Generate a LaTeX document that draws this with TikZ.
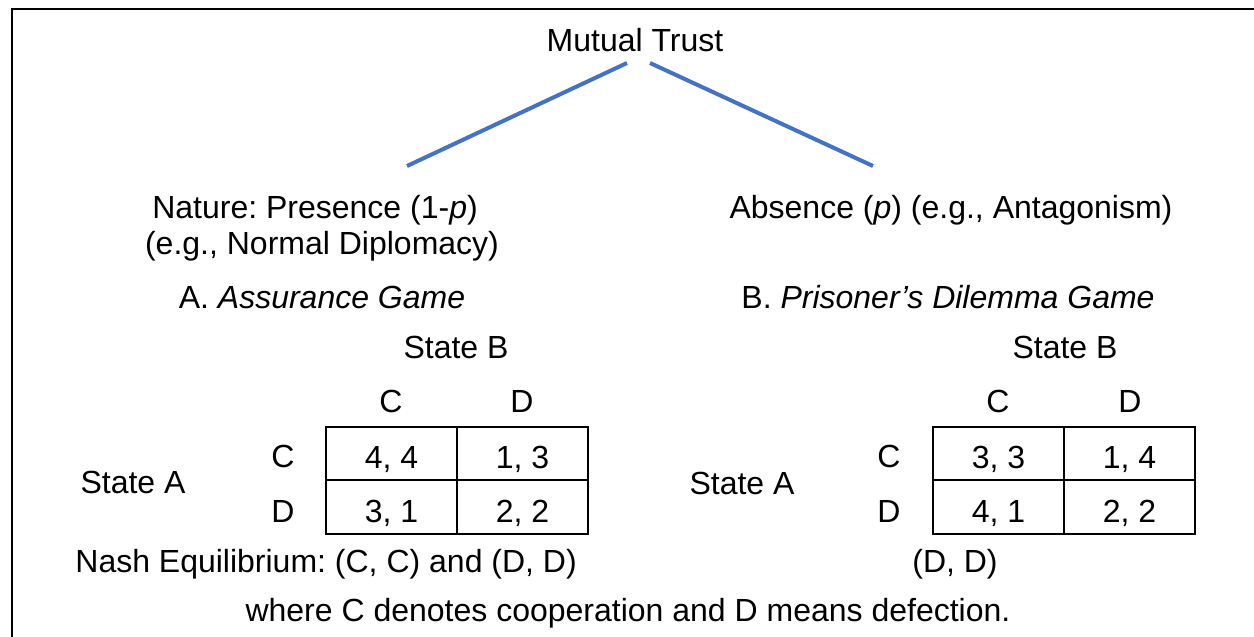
\documentclass[tikz,border=0pt]{standalone}
\usepackage{fontspec}
\setmainfont{Liberation Sans}
\usepackage{tikz}
\usetikzlibrary{calc}
\definecolor{trustblue}{HTML}{4472C4}
\frenchspacing

\begin{document}
\begin{tikzpicture}[
        x=0.5pt, y=-0.5pt,
        every node/.style={font=\fontsize{16}{19}\selectfont, inner sep=0pt},
        lb/.style={anchor=base},
        cell/.style={draw, line width=0.9pt, minimum width=65.5pt, minimum height=26.75pt,
          text height=17pt, text depth=2pt},
        br/.style={line width=2pt, trustblue}
      ]
      \useasboundingbox (0,0) rectangle (1254,637);
      \draw[line width=1.4pt] (12,637) -- (12,9) -- (1254,9);
      % the tree
      \node[lb] (trust) at (635,51) {Mutual Trust};
      \node[lb] (presence) at (315,218) {Nature: Presence (1-\textit{p})};
      \node[lb] (diplomacy) at (322,254) {(e.g., Normal Diplomacy)};
      \node[lb] (gameA) at (322,308) {A. \textit{Assurance Game}};
      \node[lb] (absence) at (951,218) {Absence (\textit{p}) (e.g., Antagonism)};
      \node[lb] (gameB) at (948,308) {B. \textit{Prisoner’s Dilemma Game}};
      \draw[br] ([xshift=-4pt, yshift=-6pt]trust.base) -- ([xshift=46pt, yshift=26pt]presence.base);
      \draw[br] ([xshift=7.5pt, yshift=-6pt]trust.base) -- ([xshift=-39pt, yshift=26pt]absence.base);
      % game A
      \node[lb] (sbA) at (456,358) {State B};
      \node[lb] (saA) at (133,493) {State A};
      \node[lb] (cA) at (391,412) {C};
      \node[lb] (dA) at (522,412) {D};
      \node[lb] (rcA) at (283,467) {C};
      \node[lb] (rdA) at (283,522) {D};
      \node[cell] (a11) at (391.5,453.5) {4, 4};
      \node[cell] (a12) at (522.5,453.5) {1, 3};
      \node[cell] (a21) at (391.5,507) {3, 1};
      \node[cell] (a22) at (522.5,507) {2, 2};
      \node[lb, anchor=base west] (nashA) at (75,572) {Nash Equilibrium: (C, C) and (D, D)};
      % game B
      \node[lb] (sbB) at (1065,358) {State B};
      \node[lb] (saB) at (742,494) {State A};
      \node[lb] (cB) at (998,412) {C};
      \node[lb] (dB) at (1130,412) {D};
      \node[lb] (rcB) at (889,467) {C};
      \node[lb] (rdB) at (889,522) {D};
      \node[cell] (b11) at (998.5,453.5) {3, 3};
      \node[cell] (b12) at (1129.5,453.5) {1, 4};
      \node[cell] (b21) at (998.5,507) {4, 1};
      \node[cell] (b22) at (1129.5,507) {2, 2};
      \node[lb] (nashB) at (955,572) {(D, D)};
      \node[lb] (note) at (628,621) {where C denotes cooperation and D means defection.};
    \end{tikzpicture}
\end{document}
